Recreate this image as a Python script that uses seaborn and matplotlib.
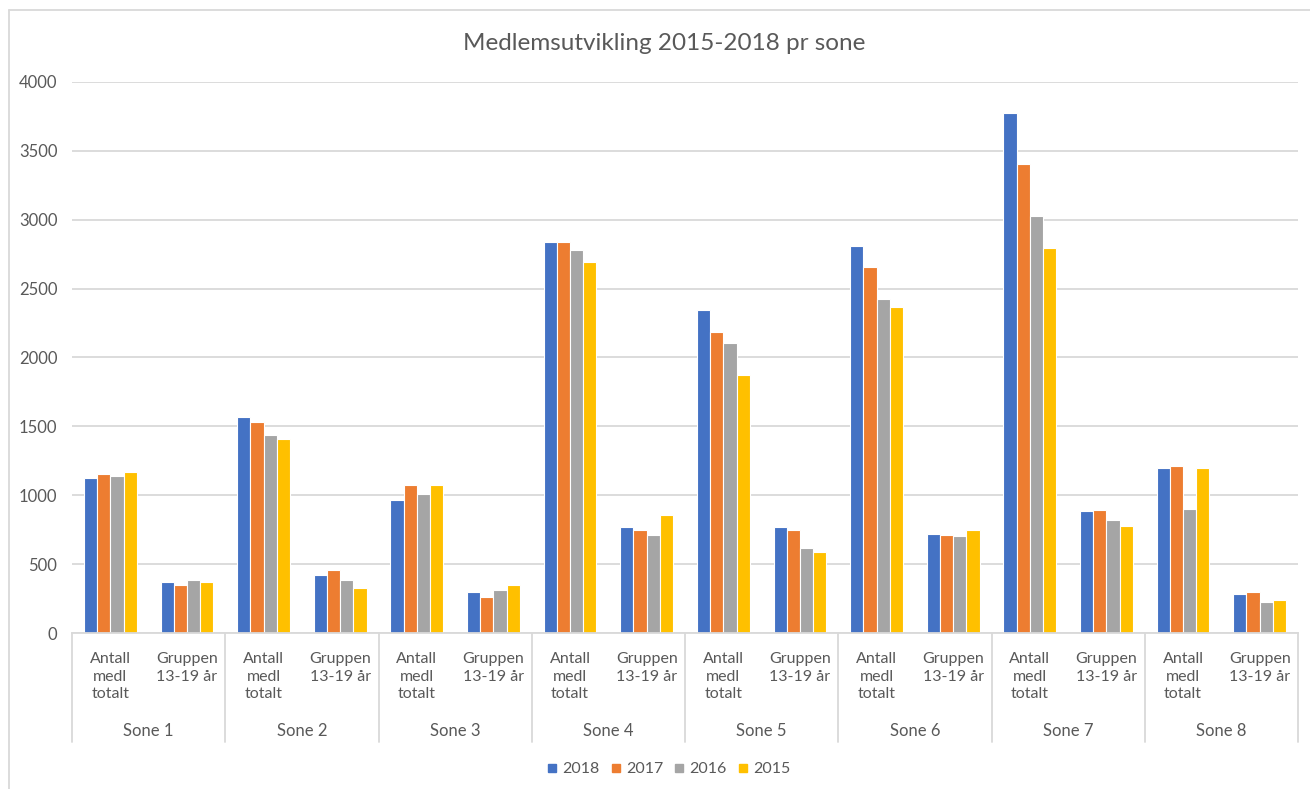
import pandas as pd
import seaborn as sns
import matplotlib.pyplot as plt
from matplotlib.lines import Line2D

# Data
zones = ['Sone 1', 'Sone 2', 'Sone 3', 'Sone 4', 'Sone 5', 'Sone 6', 'Sone 7', 'Sone 8']
groups = ['Antall\nmedl\ntotalt', 'Gruppen\n13-19 år']
years = ['2018', '2017', '2016', '2015']

# values per zone: [Antall medl totalt, Gruppen 13-19 år]
v2018 = [1128, 372, 1568, 420, 966, 299, 2835, 768, 2342, 768, 2810, 722, 3775, 883, 1195, 282]
v2017 = [1156, 345, 1534, 459, 1073, 258, 2835, 748, 2187, 748, 2660, 715, 3402, 890, 1213, 300]
v2016 = [1142, 386, 1436, 386, 1012, 314, 2777, 715, 2107, 614, 2422, 701, 3027, 818, 900, 223]
v2015 = [1171, 367, 1409, 330, 1073, 345, 2690, 855, 1872, 587, 2369, 747, 2795, 774, 1195, 243]

colors = ['#4472C4', '#ED7D31', '#A5A5A5', '#FFC000']

# long-form table
cats = [z + '|' + g for z in zones for g in groups]
rows = []
for year, vals in zip(years, [v2018, v2017, v2016, v2015]):
    for c, v in zip(cats, vals):
        rows.append({'cat': c, 'year': year, 'value': v})
df = pd.DataFrame(rows)

sns.set_style('white')
plt.rcParams['font.family'] = ['Lato', 'DejaVu Sans']
txt_color = '#595959'
grid_color = '#D9D9D9'

fig = plt.figure(figsize=(13.1, 7.89), dpi=100)
ax = fig.add_axes([72 / 1310, 1 - 633 / 789, (1298 - 72) / 1310, (633 - 82) / 789])

sns.barplot(data=df, x='cat', y='value', hue='year', order=cats, hue_order=years,
            palette=colors, width=0.69, edgecolor='white', linewidth=0.8,
            saturation=1, ax=ax)

ax.set_ylim(0, 4000)
ax.set_xlim(-0.5, len(cats) - 0.5)
ax.set_yticks(range(0, 4001, 500))
ax.yaxis.grid(True, color=grid_color, linewidth=1.3)
ax.set_axisbelow(True)
for s in ['left', 'right', 'top']:
    ax.spines[s].set_visible(False)
ax.spines['bottom'].set_color(grid_color)
ax.spines['bottom'].set_linewidth(1.3)
ax.tick_params(axis='y', length=0, pad=10.5, labelsize=12, labelcolor=txt_color)
ax.tick_params(axis='x', length=0, pad=14, labelsize=11.5, labelcolor=txt_color)
ax.set_xticks(range(len(cats)))
ax.set_xticklabels([g for z in zones for g in groups], linespacing=1.3, va='top')
ax.set_xlabel('')
ax.set_ylabel('')
ax.get_legend().remove()

# zone separators and labels below the axis
trans = ax.get_xaxis_transform()
sep_bottom = -(742 - 633) / (633 - 82)
for i in range(len(zones) + 1):
    x = i * 2 - 0.5
    ax.plot([x, x], [0, sep_bottom], transform=trans, color=grid_color,
            linewidth=1.3, clip_on=False)
for i, z in enumerate(zones):
    ax.text(i * 2 + 0.5, -(731 - 633) / (633 - 82), z, transform=trans,
            ha='center', va='center', fontsize=12, color=txt_color)

# title
fig.text(664 / 1310, 1 - 43 / 789, 'Medlemsutvikling 2015-2018 pr sone', ha='center',
         va='center', fontsize=17.5, color=txt_color)

# legend
handles = [Line2D([], [], marker='s', linestyle='', markersize=6,
                  markerfacecolor=c, markeredgecolor=c) for c in colors]
fig.legend(handles, years, loc='center', bbox_to_anchor=(668 / 1310, 1 - 769 / 789),
           ncol=4, frameon=False, fontsize=11.5, labelcolor=txt_color,
           handletextpad=0.25, columnspacing=0.6, handlelength=0.8)

# chart area border (top and left visible in the reference)
fig.add_artist(Line2D([9 / 1310, 1], [1 - 10 / 789, 1 - 10 / 789], transform=fig.transFigure,
                      color=grid_color, linewidth=1.3))
fig.add_artist(Line2D([9 / 1310, 9 / 1310], [0, 1 - 10 / 789], transform=fig.transFigure,
                      color=grid_color, linewidth=1.3))

fig.savefig('out.png', dpi=100, facecolor='white')
